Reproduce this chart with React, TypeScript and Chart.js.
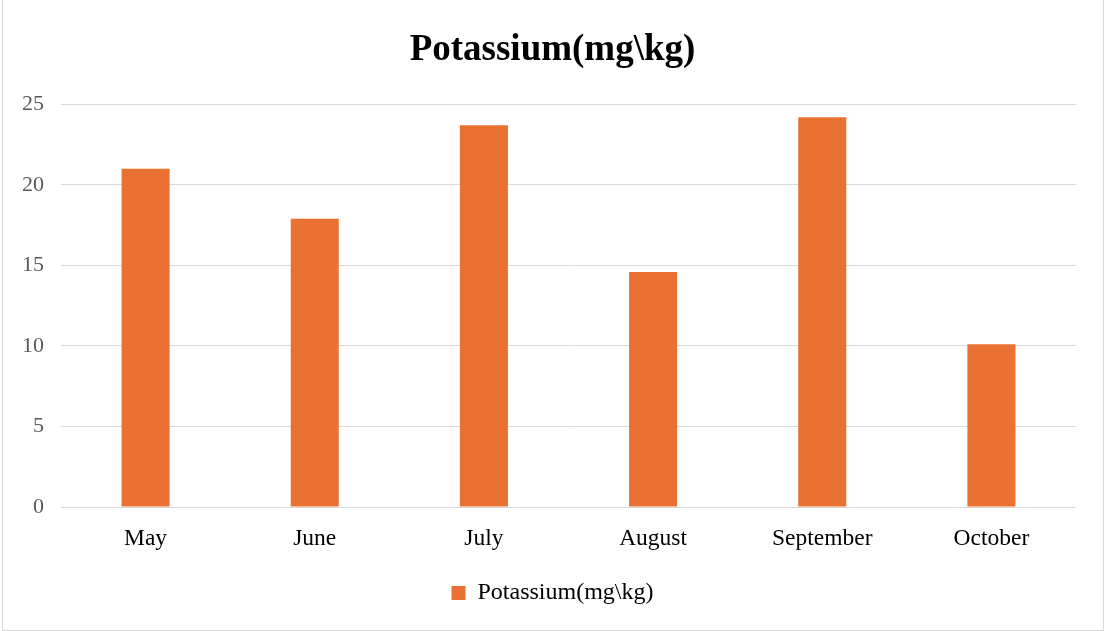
import React, { useEffect, useRef } from "react";
import { Chart, registerables } from "chart.js";

Chart.register(...registerables);

const months = ["May", "June", "July", "August", "September", "October"];
const potassium = [21.0, 17.9, 23.7, 14.6, 24.2, 10.1];
const seriesName = "Potassium(mg\\kg)";
const titleText = "Potassium(mg\\kg)";

const FONT = "'Liberation Serif', 'Times New Roman', serif";

export default function App() {
  const ref = useRef<HTMLCanvasElement | null>(null);

  useEffect(() => {
    document.body.style.margin = "0";
    const ctx = ref.current!;
    const chart = new Chart(ctx, {
      type: "bar",
      data: {
        labels: months,
        datasets: [
          {
            label: seriesName,
            data: potassium,
            backgroundColor: "#E97233",
            borderWidth: 0,
            barPercentage: 0.284,
            categoryPercentage: 1,
            yAxisID: "y",
          },
        ],
      },
      options: {
        responsive: false,
        animation: false,
        layout: { padding: { left: 0, right: 0, top: 0, bottom: 16 } },
        plugins: {
          title: {
            display: true,
            text: titleText,
            color: "#000",
            font: { family: FONT, size: 37, weight: "bold" },
            padding: { top: 28, bottom: 32 },
          },
          legend: {
            display: true,
            position: "bottom",
            labels: {
              boxWidth: 14,
              boxHeight: 14,
              color: "#000",
              font: { family: FONT, size: 24 },
            },
          },
          tooltip: { enabled: false },
        },
        scales: {
          x: {
            grid: { display: false, drawTicks: false },
            border: { display: false },
            ticks: {
              color: "#000",
              font: { family: FONT, size: 23.5 },
              padding: 18,
              maxRotation: 0,
            },
            afterFit: (s: any) => {
              s.height = 64;
            },
          },
          y: {
            position: "left",
            min: 0,
            max: 25,
            grid: { color: "#d9d9d9", lineWidth: 1, drawTicks: false },
            border: { display: false },
            ticks: {
              stepSize: 5,
              color: "#595959",
              font: { family: FONT, size: 22 },
              padding: 17,
            },
            afterFit: (s: any) => {
              s.width = 61;
            },
          },
          yr: {
            type: "linear",
            position: "right",
            display: true,
            grid: { display: false, drawTicks: false },
            border: { display: false },
            ticks: { display: false },
            afterFit: (s: any) => {
              s.width = 29;
            },
          },
        },
      },
    });
    return () => chart.destroy();
  }, []);

  return (
    <div
      style={{
        position: "fixed",
        left: 0,
        top: 0,
        width: 1105,
        height: 631,
        background: "#fff",
        overflow: "hidden",
      }}
    >
      <div
        style={{
          position: "absolute",
          left: 2,
          top: -2,
          width: 1102,
          height: 633,
          border: "1px solid #d9d9d9",
          boxSizing: "border-box",
        }}
      />
      <canvas
        ref={ref}
        width={1105}
        height={631}
        style={{ position: "absolute", left: 0, top: 0, width: 1105, height: 631 }}
      />
    </div>
  );
}
